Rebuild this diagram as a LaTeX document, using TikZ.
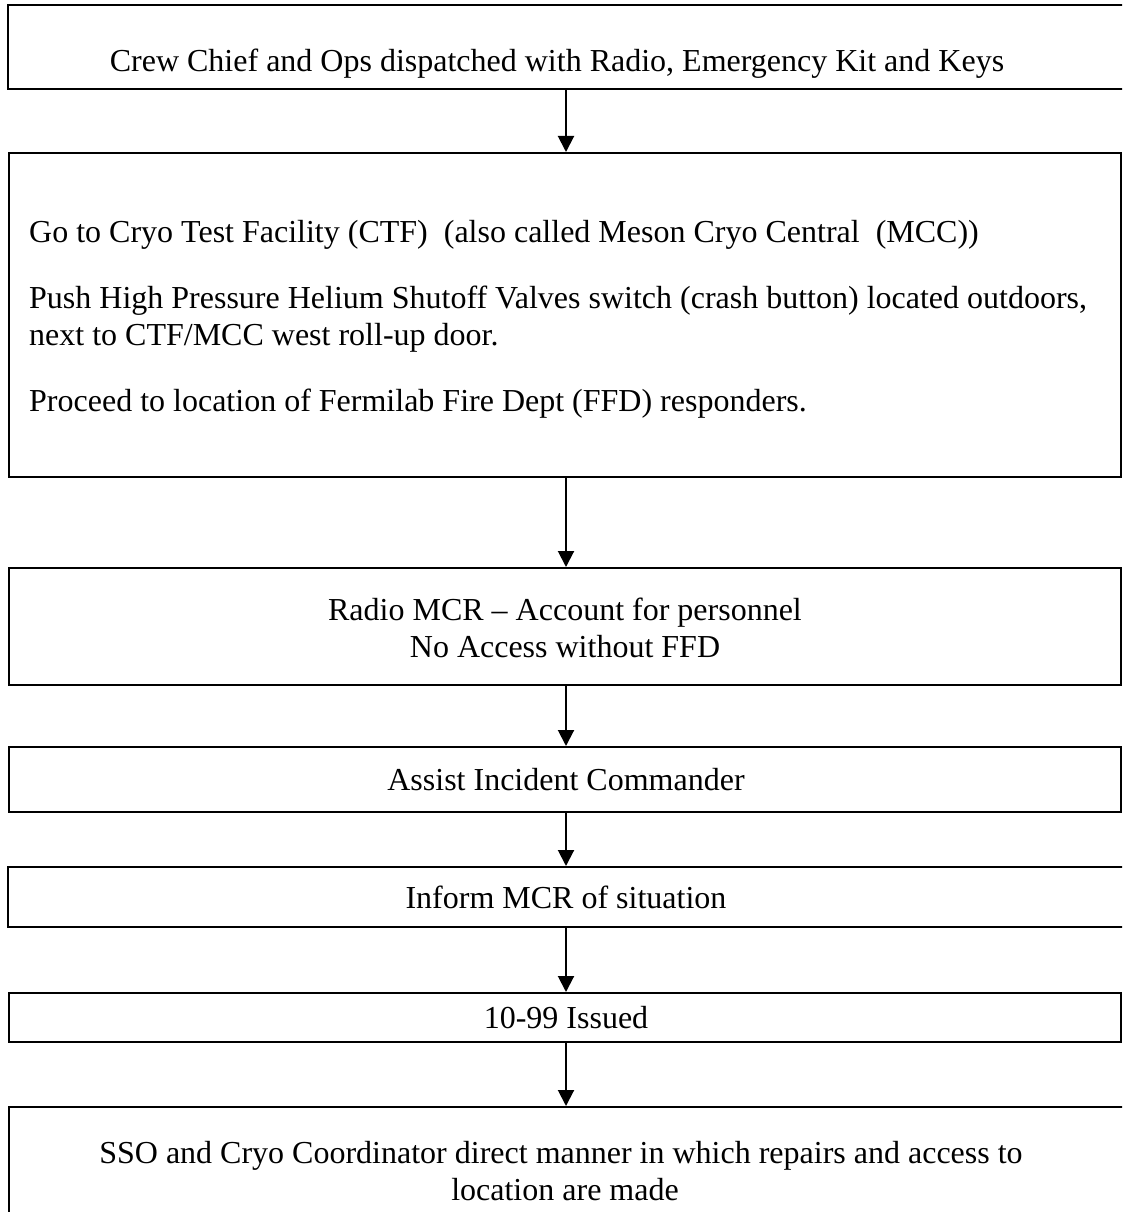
\documentclass[tikz,border=0pt]{standalone}
\usepackage{fontspec}
\setmainfont{Liberation Serif}
\usetikzlibrary{arrows.meta}
\begin{document}
\begin{tikzpicture}[x=1pt,y=-1pt,
  box/.style={draw=black,line width=2pt,inner sep=0pt,rectangle},
  txt/.style={inner sep=0pt,anchor=base,font=\fontsize{32}{37}\selectfont},
  ltxt/.style={inner sep=0pt,anchor=base west,font=\fontsize{32}{37}\selectfont},
  arr/.style={line width=2pt,-{Triangle[length=16pt,width=16pt]}}]
\useasboundingbox (0,0) rectangle (1122,1212);
\clip (0,0) rectangle (1122,1212);
\node[box,minimum width=1127pt,minimum height=84pt] (b1) at (571.5,47) {};
\node[box,minimum width=1112pt,minimum height=324pt] (b2) at (565,315) {};
\node[box,minimum width=1112pt,minimum height=117pt] (b3) at (565,626.5) {};
\node[box,minimum width=1112pt,minimum height=65pt] (b4) at (565,779.5) {};
\node[box,minimum width=1127pt,minimum height=60pt] (b5) at (571.5,897) {};
\node[box,minimum width=1112pt,minimum height=49pt] (b6) at (565,1017.5) {};
\node[box,minimum width=1127pt,minimum height=133pt] (b7) at (572,1173.5) {};
\coordinate (ax) at (566,0);
\node[txt] (t1) at (557,72) {Crew Chief and Ops dispatched with Radio, Emergency Kit and Keys};
\node[ltxt] (t2a) at (29,242) {Go to Cryo Test Facility (CTF)\ \ (also called Meson Cryo Central\ \ (MCC))};
\node[ltxt] (t2b) at (29,308) {Push High Pressure Helium Shutoff Valves switch (crash button) located outdoors,};
\node[ltxt] (t2c) at (29,345) {next to CTF/MCC west roll-up door.};
\node[ltxt] (t2d) at (29,411) {Proceed to location of Fermilab Fire Dept (FFD) responders.};
\node[txt] (t3a) at (565,620) {Radio MCR -- Account for personnel};
\node[txt] (t3b) at (565,657) {No Access without FFD};
\node[txt] (t4) at (566,790) {Assist Incident Commander};
\node[txt] (t5) at (566,908) {Inform MCR of situation};
\node[txt] (t6) at (566,1028) {10-99 Issued};
\node[txt] (t7a) at (561,1163) {SSO and Cryo Coordinator direct manner in which repairs and access to};
\node[txt] (t7b) at (565,1200) {location are made};
\draw[arr] (b1.south -| ax) -- (b2.north -| ax);
\draw[arr] (b2.south -| ax) -- (b3.north -| ax);
\draw[arr] (b3.south -| ax) -- (b4.north -| ax);
\draw[arr] (b4.south -| ax) -- (b5.north -| ax);
\draw[arr] (b5.south -| ax) -- (b6.north -| ax);
\draw[arr] (b6.south -| ax) -- (b7.north -| ax);
\end{tikzpicture}
\end{document}
